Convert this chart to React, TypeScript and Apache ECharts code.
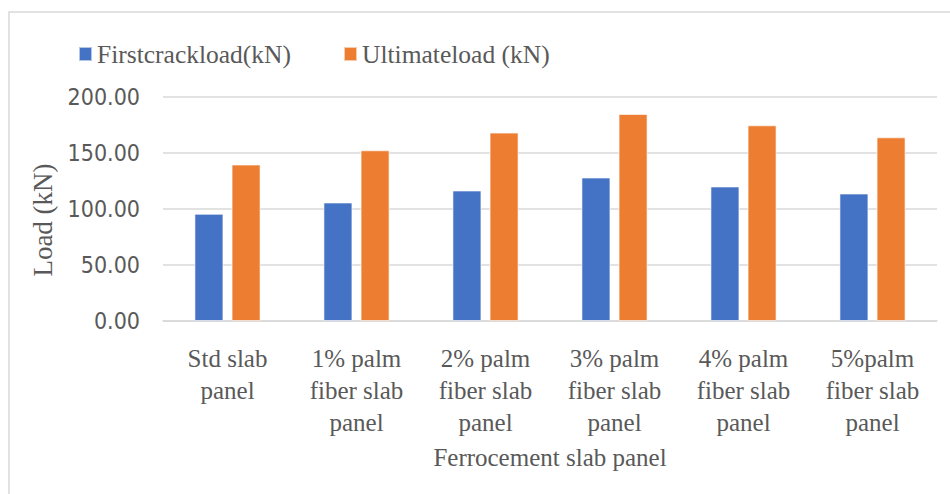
import React, { useEffect, useRef } from "react";
import * as echarts from "echarts";

const categories = [
  "Std slab\npanel",
  "1% palm\nfiber slab\npanel",
  "2% palm\nfiber slab\npanel",
  "3% palm\nfiber slab\npanel",
  "4% palm\nfiber slab\npanel",
  "5%palm\nfiber slab\npanel",
];
const seriesNames = ["Firstcrackload(kN)", "Ultimateload (kN)"];
const firstCrackLoad = [95.7, 105.8, 116.5, 128.1, 120.1, 113.8];
const ultimateLoad = [139.7, 152.4, 168.2, 184.8, 174.7, 164.0];
const yMin = 0;
const yMax = 200;
const yInterval = 50;

const serif = "'Liberation Serif', 'Times New Roman', serif";
const narrow = "'Liberation Sans Narrow', 'Arial Narrow', 'DejaVu Sans Condensed', sans-serif";
const textColor = "#595959";

export default function App() {
  const ref = useRef<HTMLDivElement>(null);
  useEffect(() => {
    document.body.style.margin = "0";
    const chart = echarts.init(ref.current!, undefined, { renderer: "svg" });
    chart.setOption({
      animation: false,
      backgroundColor: "#ffffff",
      graphic: [
        {
          type: "rect",
          shape: { x: 9, y: 12, width: 960, height: 500 },
          style: { fill: "none", stroke: "#d9d9d9", lineWidth: 1.5 },
          z: -1,
        },
      ],
      legend: {
        left: 73,
        top: 36,
        itemWidth: 13,
        itemHeight: 14,
        itemGap: 52,
        icon: "rect",
        textStyle: { fontFamily: serif, fontSize: 25.5, color: textColor },
        data: seriesNames,
      },
      grid: { left: 163, right: 13, top: 97, bottom: 173, containLabel: false },
      xAxis: {
        type: "category",
        data: categories,
        axisTick: { show: false },
        axisLine: { lineStyle: { color: "#d9d9d9", width: 1.5 } },
        axisLabel: {
          fontFamily: serif,
          fontSize: 25,
          lineHeight: 32,
          color: textColor,
          margin: 21,
          interval: 0,
        },
        name: "Ferrocement slab panel",
        nameLocation: "middle",
        nameGap: 124,
        nameTextStyle: { fontFamily: serif, fontSize: 25, color: textColor },
      },
      yAxis: {
        type: "value",
        min: yMin,
        max: yMax,
        interval: yInterval,
        axisLine: { show: false },
        axisTick: { show: false },
        splitLine: { lineStyle: { color: "#d9d9d9", width: 1.5 } },
        axisLabel: {
          fontFamily: narrow,
          fontSize: 23,
          color: textColor,
          margin: 23,
          formatter: (v: number) => v.toFixed(2),
        },
        name: "Load (kN)",
        nameLocation: "middle",
        nameGap: 99,
        nameTextStyle: { fontFamily: serif, fontSize: 27, color: textColor, padding: [0, 22, 0, 0] },
      },
      series: [
        {
          name: seriesNames[0],
          type: "bar",
          data: firstCrackLoad,
          barWidth: 29,
          barGap: "28%",
          itemStyle: { color: "#4472C4", borderColor: "rgba(255,255,255,0.6)", borderWidth: 1 },
        },
        {
          name: seriesNames[1],
          type: "bar",
          data: ultimateLoad,
          barWidth: 29,
          barGap: "28%",
          itemStyle: { color: "#ED7D31", borderColor: "rgba(255,255,255,0.6)", borderWidth: 1 },
        },
      ],
    });
    return () => chart.dispose();
  }, []);
  return <div ref={ref} style={{ width: 950, height: 494 }} />;
}
